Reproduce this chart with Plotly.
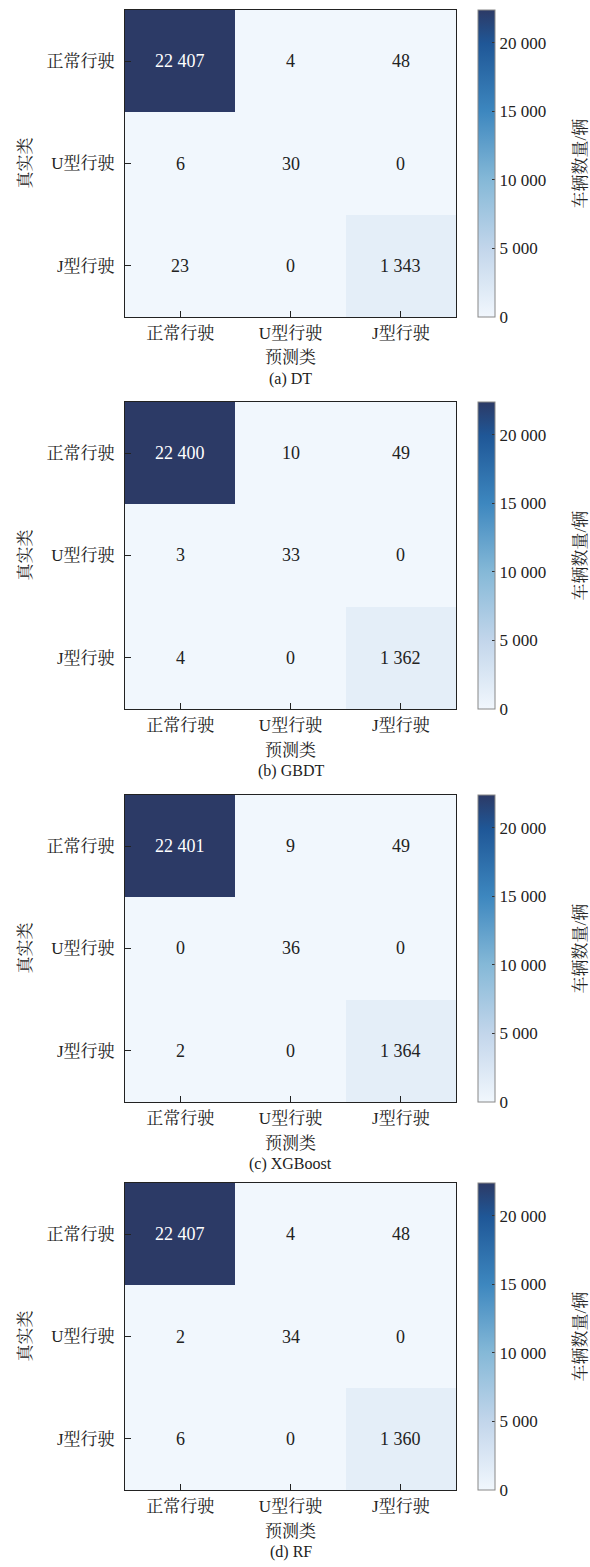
import plotly.graph_objects as go

W, H = 590, 1567

classes = ["正常行驶", "U型行驶", "J型行驶"]
models = ["DT", "GBDT", "XGBoost", "RF"]
captions = ["(a) DT", "(b) GBDT", "(c) XGBoost", "(d) RF"]

cm_dt = [[22407, 4, 48], [6, 30, 0], [23, 0, 1343]]
cm_gbdt = [[22400, 10, 49], [3, 33, 0], [4, 0, 1362]]
cm_xgb = [[22401, 9, 49], [0, 36, 0], [2, 0, 1364]]
cm_rf = [[22407, 4, 48], [2, 34, 0], [6, 0, 1360]]
matrices = [cm_dt, cm_gbdt, cm_xgb, cm_rf]

cbar_ticks = [0, 5000, 10000, 15000, 20000]
cbar_ticktext = ["0", "5 000", "10 000", "15 000", "20 000"]

colorscale = [
    [0.0, "#f1f7fd"],
    [0.22, "#c3d6eb"],
    [0.45, "#84b8d7"],
    [0.67, "#3d87bf"],
    [0.89, "#1f5797"],
    [1.0, "#2c3a66"],
]

FONT = "Liberation Serif, Noto Serif CJK SC, Noto Sans CJK SC, serif"

# panel pixel geometry
x_left, x_right = 125, 456
tops = [10, 402, 795, 1183]
ph = 307
cb_x = 478

def fmt(v):
    return f"{v:,}".replace(",", " ")

fig = go.Figure()
annotations = []
for i, (m, cm) in enumerate(zip(models, matrices)):
    top = tops[i]
    bot = top + ph
    zmax = max(max(r) for r in cm)
    text = [[fmt(v) for v in row] for row in cm]
    xa = "x" if i == 0 else f"x{i+1}"
    ya = "y" if i == 0 else f"y{i+1}"
    fig.add_trace(go.Heatmap(
        z=cm, x=classes, y=classes, xaxis=xa, yaxis=ya,
        colorscale=colorscale, zmin=0, zmax=zmax,
        showscale=True,
        colorbar=dict(
            x=cb_x / W, xanchor="left", xpad=0, ypad=0,
            y=1 - top / H, yanchor="top",
            len=ph, lenmode="pixels",
            thickness=17, thicknessmode="pixels",
            outlinecolor="#888888", outlinewidth=1,
            tickvals=cbar_ticks, ticktext=cbar_ticktext,
            ticks="inside", ticklen=3, tickcolor="#333333",
            tickfont=dict(family=FONT, size=17, color="#222222"),
        ),
        hoverinfo="skip",
    ))
    for r in range(3):
        for c in range(3):
            v = cm[r][c]
            annotations.append(dict(
                x=classes[c], y=classes[r], xref=xa, yref=ya,
                text=text[r][c], showarrow=False,
                font=dict(family=FONT, size=18,
                          color="white" if v > zmax / 2 else "#222222"),
            ))
    dom_y = [1 - bot / H, 1 - top / H]
    xk = "xaxis" if i == 0 else f"xaxis{i+1}"
    yk = "yaxis" if i == 0 else f"yaxis{i+1}"
    fig.update_layout(**{
        xk: dict(domain=[x_left / W, x_right / W], anchor=ya,
                 type="category", categoryorder="array", categoryarray=classes,
                 ticks="inside", ticklen=6, tickcolor="#222222", ticklabelstandoff=0,
                 showline=True, mirror=True, linecolor="#222222", linewidth=1.2,
                 tickfont=dict(family=FONT, size=17, color="#222222"),
                 showgrid=False, zeroline=False, fixedrange=True),
        yk: dict(domain=dom_y, anchor=xa,
                 type="category", categoryorder="array", categoryarray=classes,
                 autorange="reversed",
                 ticks="inside", ticklen=6, tickcolor="#222222", ticklabelstandoff=6,
                 showline=True, mirror=True, linecolor="#222222", linewidth=1.2,
                 tickfont=dict(family=FONT, size=17, color="#222222"),
                 showgrid=False, zeroline=False, fixedrange=True),
    })
    annotations.append(dict(
        x=(x_left + x_right) / 2 / W, y=1 - (bot + 41) / H, xref="paper", yref="paper",
        text="预测类", showarrow=False, xanchor="center", yanchor="middle",
        font=dict(family=FONT, size=17, color="#222222"),
    ))
    annotations.append(dict(
        x=(x_left + x_right) / 2 / W, y=1 - (bot + 62) / H, xref="paper", yref="paper",
        text=captions[i], showarrow=False, xanchor="center", yanchor="middle",
        font=dict(family=FONT, size=16, color="#222222"),
    ))
    annotations.append(dict(
        x=25 / W, y=1 - (top + ph / 2) / H, xref="paper", yref="paper",
        text="真实类", showarrow=False, textangle=-90, xanchor="center", yanchor="middle",
        font=dict(family=FONT, size=17, color="#222222"),
    ))
    annotations.append(dict(
        x=580 / W, y=1 - (top + ph / 2) / H, xref="paper", yref="paper",
        text="车辆数量/辆", showarrow=False, textangle=-90, xanchor="center", yanchor="middle",
        font=dict(family=FONT, size=17, color="#222222"),
    ))

fig.update_layout(
    width=W, height=H, margin=dict(l=0, r=0, t=0, b=0),
    paper_bgcolor="white", plot_bgcolor="white",
    annotations=annotations, showlegend=False,
    font=dict(family=FONT),
)
fig.write_html("out.html")
